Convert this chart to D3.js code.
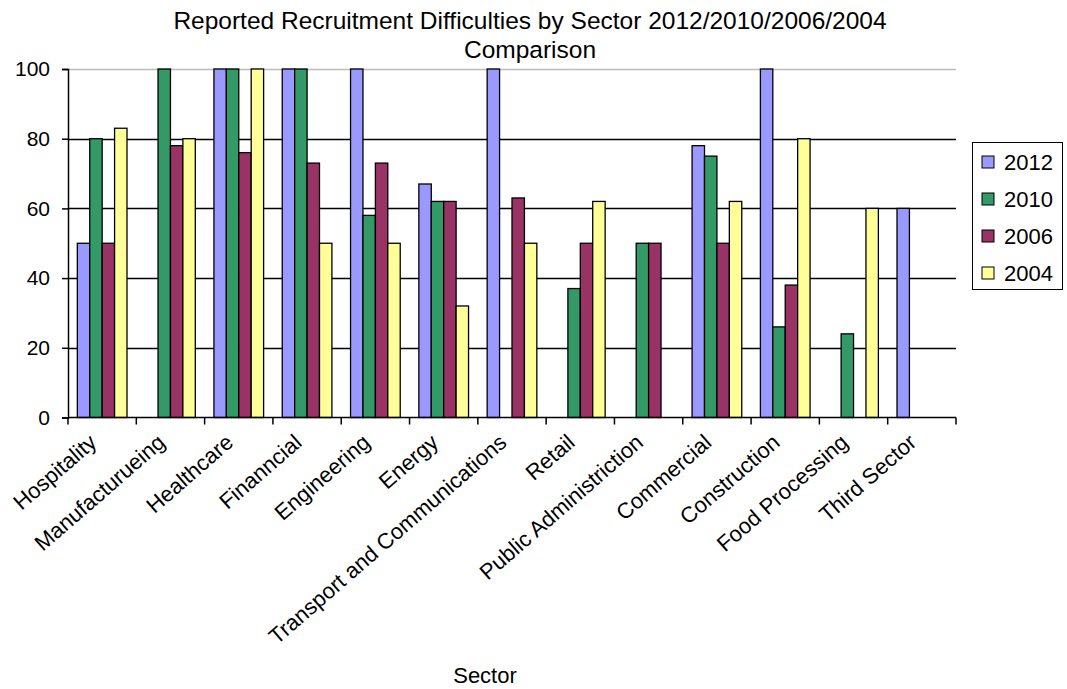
<!DOCTYPE html>
<html>
<head>
<meta charset="utf-8">
<script src="https://cdnjs.cloudflare.com/ajax/libs/d3/7.8.5/d3.min.js"></script>
<style>
  body { margin: 0; background: #fff; }
  text { font-family: "Liberation Sans", Arial, sans-serif; fill: #000; }
</style>
</head>
<body>
<div id="chart"></div>
<script>
const sectors = ["Hospitality", "Manufacturueing", "Healthcare", "Finanncial", "Engineering", "Energy",
  "Transport and Communications", "Retail", "Public Administriction", "Commercial", "Construction",
  "Food Processing", "Third Sector"];
const years = ["2012", "2010", "2006", "2004"];
const colors = ["#9999FF", "#339966", "#993366", "#FFFF99"];
const v2012 = [50, null, 100, 100, 100, 67, 100, null, null, 78, 100, null, 60];
const v2010 = [80, 100, 100, 100, 58, 62, null, 37, 50, 75, 26, 24, null];
const v2006 = [50, 78, 76, 73, 73, 62, 63, 50, 50, 50, 38, null, null];
const v2004 = [83, 80, 100, 50, 50, 32, 50, 62, null, 62, 80, 60, null];
const yTicks = [0, 20, 40, 60, 80, 100];

const series = [v2012, v2010, v2006, v2004];

const W = 1067, H = 689;
const margin = { top: 69, right: 111, bottom: 271.5, left: 68 },
      width = W - margin.left - margin.right,
      height = H - margin.top - margin.bottom;

const svg = d3.select("#chart")
  .append("svg")
    .attr("width", W)
    .attr("height", H);

const g = svg.append("g")
    .attr("transform", `translate(${margin.left},${margin.top})`);

const x = d3.scaleBand()
    .domain(sectors)
    .range([0, width]);

// Excel style gap: 150% of bar width
const barW = x.bandwidth() / 5.5;
const x1 = d3.scaleBand()
    .domain(years)
    .range([barW * 0.75, barW * 4.75]);

const y = d3.scaleLinear()
    .domain([0, 100])
    .range([height, 0]);

// gridlines
g.selectAll(".grid")
  .data(yTicks.filter(t => t > 0))
  .enter().append("line")
    .attr("x1", 0).attr("x2", width)
    .attr("y1", d => Math.round(y(d)) + 0.5).attr("y2", d => Math.round(y(d)) + 0.5)
    .style("stroke", d => d === 100 ? "#bbb" : "#000")
    .style("stroke-width", 1.5);

// bars
years.forEach((yr, i) => {
  g.selectAll(".bar" + yr)
    .data(sectors.map((s, j) => ({ s, v: series[i][j] })).filter(d => d.v != null))
    .enter().append("rect")
      .attr("x", d => x(d.s) + x1(yr))
      .attr("y", d => y(d.v))
      .attr("width", x1.bandwidth())
      .attr("height", d => height - y(d.v))
      .style("fill", colors[i])
      .style("stroke", "#000")
      .style("stroke-width", 1.3);
});

// y axis
const yAxis = g.append("g")
  .call(d3.axisLeft(y).tickValues(yTicks).tickSize(6).tickPadding(12));
yAxis.select(".domain").style("stroke", "#000").style("stroke-width", 1.5);
yAxis.selectAll(".tick line").style("stroke", "#000").style("stroke-width", 1.5);
yAxis.selectAll("text").style("font-size", "21px").style("font-family", "'Liberation Sans', Arial, sans-serif");

// x axis: ticks at category boundaries
const xAxis = g.append("g")
  .attr("transform", `translate(0,${height})`);
xAxis.append("line")
  .attr("x1", 0).attr("x2", width).attr("y1", 0).attr("y2", 0)
  .style("stroke", "#000").style("stroke-width", 1.5);
xAxis.selectAll(".xtick")
  .data(sectors.concat(["end"]))
  .enter().append("line")
    .attr("x1", (d, i) => i * x.step()).attr("x2", (d, i) => i * x.step())
    .attr("y1", 0).attr("y2", 7)
    .style("stroke", "#000").style("stroke-width", 1.5);
xAxis.selectAll(".xlabel")
  .data(sectors)
  .enter().append("text")
    .attr("transform", d => `translate(${x(d) + x.bandwidth() / 2 - 4},${27}) rotate(-41)`)
    .attr("text-anchor", "end")
    .style("font-size", "22px")
    .text(d => d);

// title
svg.append("text")
  .attr("x", 530).attr("y", 29)
  .attr("text-anchor", "middle")
  .style("font-size", "24.5px")
  .text("Reported Recruitment Difficulties by Sector 2012/2010/2006/2004");
svg.append("text")
  .attr("x", 530).attr("y", 58)
  .attr("text-anchor", "middle")
  .style("font-size", "24.5px")
  .text("Comparison");

// axis title
svg.append("text")
  .attr("x", 485).attr("y", 683)
  .attr("text-anchor", "middle")
  .style("font-size", "22px")
  .text("Sector");

// legend
const legend = svg.append("g").attr("transform", "translate(972,142)");
legend.append("rect")
  .attr("x", 0.5).attr("y", 0.5).attr("width", 90).attr("height", 147)
  .style("fill", "#fff").style("stroke", "#000").style("stroke-width", 1);
years.forEach((yr, i) => {
  const ly = 20 + i * 37;
  legend.append("rect")
    .attr("x", 10).attr("y", ly - 6).attr("width", 12).attr("height", 12)
    .style("fill", colors[i]).style("stroke", "#000");
  legend.append("text")
    .attr("x", 32).attr("y", ly)
    .attr("dy", "0.36em")
    .style("font-size", "22px")
    .text(yr);
});
</script>
</body>
</html>
